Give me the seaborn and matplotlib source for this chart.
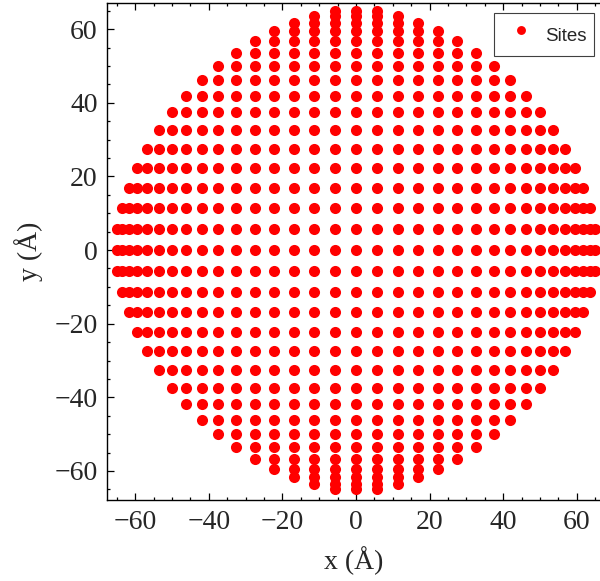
import numpy as np
import pandas as pd
import matplotlib
matplotlib.use("Agg")
import matplotlib.pyplot as plt
from matplotlib.ticker import MultipleLocator
import seaborn as sns

# lattice levels (Å), centre outwards; same for x and y
levels = [0.0, 5.66, 11.3, 16.9, 22.2, 27.5, 32.5, 37.4, 41.9, 46.1,
          50.0, 53.6, 56.7, 59.4, 61.7, 63.6, 64.9]
# outermost column index reached by each row |j| = 0..16
row_extent = [16, 16, 15, 14, 13, 12, 11, 10, 9, 8, 7, 6, 5, 4, 3, 2, 1]

x_ticks = [-60, -40, -20, 0, 20, 40, 60]
y_ticks = [-60, -40, -20, 0, 20, 40, 60]

# build the site table from the levels
pts = []
for j, ext in enumerate(row_extent):
    for sy in ([1] if j == 0 else [1, -1]):
        for i in range(-ext, ext + 1):
            pts.append((np.sign(i) * levels[abs(i)], sy * levels[j]))
df = pd.DataFrame(pts, columns=["x", "y"])

sns.set_style("ticks")
plt.rcParams["font.family"] = ["Liberation Serif", "DejaVu Serif"]

fig = plt.figure(figsize=(6, 5.81), dpi=100)
ax = fig.add_axes([0.1788, 0.1394, 0.8212, 0.8546])

sns.scatterplot(data=df, x="x", y="y", color="#ff0000", s=64, linewidth=0,
                label="Sites", ax=ax)

ax.set_xlim(-67.6, 66.3)
ax.set_ylim(-67.9, 67.0)
ax.set_xticks(x_ticks)
ax.set_yticks(y_ticks)
ax.set_xticklabels([str(t).replace("-", "\u2212") for t in x_ticks])
ax.set_yticklabels([str(t).replace("-", "\u2212") for t in y_ticks])
ax.xaxis.set_minor_locator(MultipleLocator(5))
ax.yaxis.set_minor_locator(MultipleLocator(5))
ax.tick_params(which="both", direction="in", top=True, right=False,
               labelsize=20, width=0.9, color="black")
ax.tick_params(which="major", length=5, pad=7)
ax.tick_params(which="minor", length=2.5)
for side in ["left", "bottom", "top"]:
    ax.spines[side].set_visible(True)
    ax.spines[side].set_linewidth(1.0)
    ax.spines[side].set_color("black")
ax.spines["right"].set_visible(False)

ax.set_xlabel("x (Å)", fontsize=20, labelpad=8)
ax.set_ylabel("y (Å)", fontsize=20, labelpad=8)

leg = ax.legend(loc="upper right", bbox_to_anchor=(0.988, 0.980),
                borderaxespad=0, fancybox=False, framealpha=1,
                edgecolor="0.25", borderpad=0.4, handlelength=2.0,
                handleheight=1.9, handletextpad=0.3, markerscale=0.8,
                prop={"family": ["Liberation Sans"], "size": 13.5})
leg.get_frame().set_linewidth(0.8)

fig.savefig("out.png", dpi=100)
